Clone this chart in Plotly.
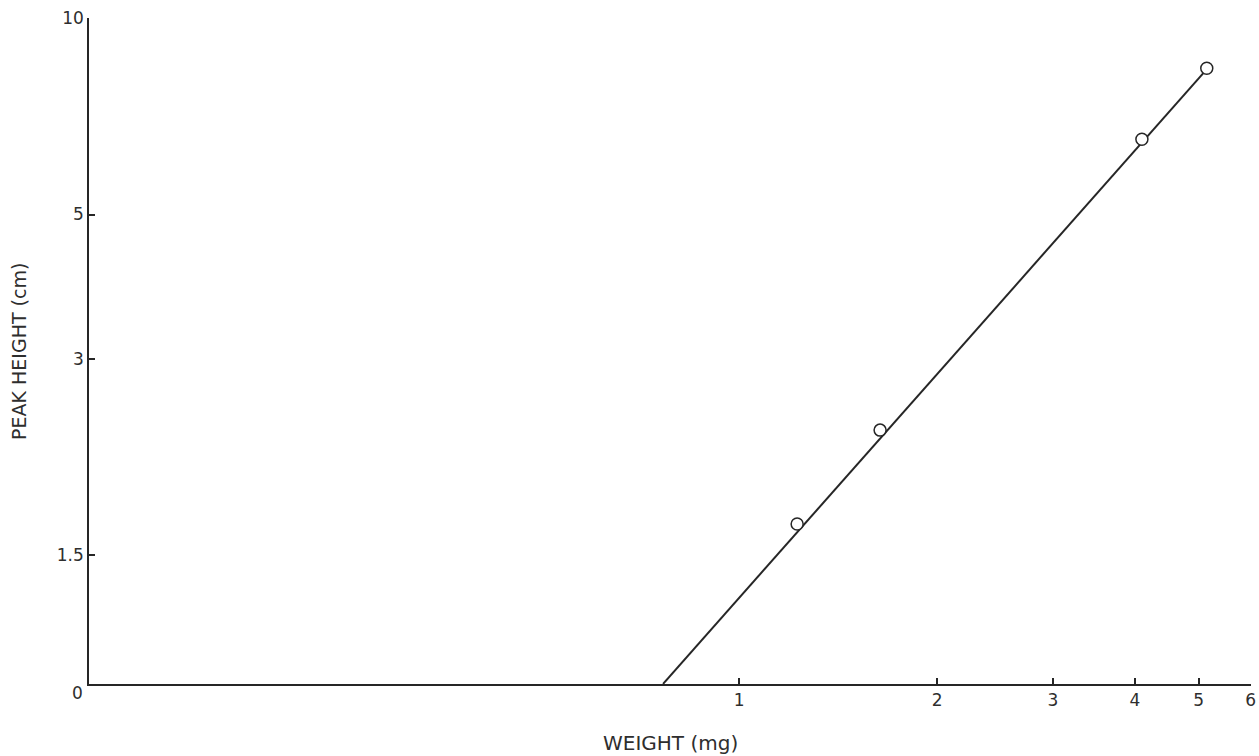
import plotly.graph_objects as go

# Data (log-log plot)
weight_mg = [1.225, 1.638, 4.098, 5.143]
peak_height_cm = [1.675, 2.334, 6.523, 8.381]

# Fitted line endpoints
fit_weight = [0.766, 5.125]
fit_height = [0.952, 8.32]

x_tick_vals = [1, 2, 3, 4, 5, 6]
x_tick_text = ["1", "2", "3", "4", "5", "6"]
y_tick_vals = [1.5, 3, 5, 10]
y_tick_text = ["1.5", "3", "5", "10"]

ink = "#262626"
txt = "#2e2e2e"
font_family = "DejaVu Sans"

fig = go.Figure()
fig.add_trace(go.Scatter(
    x=fit_weight, y=fit_height, mode="lines",
    line=dict(color=ink, width=2), showlegend=False, hoverinfo="skip",
    cliponaxis=True,
))
fig.add_trace(go.Scatter(
    x=weight_mg, y=peak_height_cm, mode="markers",
    marker=dict(symbol="circle", size=12, color="white",
                line=dict(color=ink, width=1.5)),
    showlegend=False, cliponaxis=False,
))

axis_common = dict(
    type="log", showgrid=False, zeroline=False, showline=True,
    linecolor=ink, linewidth=1.5, ticks="inside", ticklen=6,
    tickwidth=1.5, tickcolor=ink, automargin=False,
    tickfont=dict(family=font_family, size=17, color=txt),
)

fig.update_layout(
    width=1259, height=756,
    margin=dict(l=89, r=8, t=18, b=72),
    paper_bgcolor="white", plot_bgcolor="white",
    xaxis=dict(range=[-0.989, 0.7785], tickvals=x_tick_vals,
               ticktext=x_tick_text, **axis_common),
    yaxis=dict(range=[-0.0215, 1.0005], tickvals=y_tick_vals,
               ticktext=y_tick_text, **axis_common),
    annotations=[
        dict(text="WEIGHT (mg)", xref="paper", yref="paper", x=0.5,
             y=-0.0886, xanchor="center", yanchor="middle", showarrow=False,
             font=dict(family=font_family, size=20, color=txt)),
        dict(text="PEAK HEIGHT (cm)", xref="paper", yref="paper", x=-0.0603,
             y=0.5, xanchor="center", yanchor="middle", textangle=-90,
             showarrow=False,
             font=dict(family=font_family, size=19, color=txt)),
        dict(text="0", xref="paper", yref="paper", x=0, y=0,
             xanchor="center", yanchor="middle", xshift=-12, yshift=-9,
             showarrow=False,
             font=dict(family=font_family, size=17, color=txt)),
    ],
)

# Remove the browser's default body margin so the figure fills the window.
fig.write_html("out.html",
               config={"displayModeBar": False},
               post_script="document.body.style.margin='0';"
                           "document.body.style.overflow='hidden';")
